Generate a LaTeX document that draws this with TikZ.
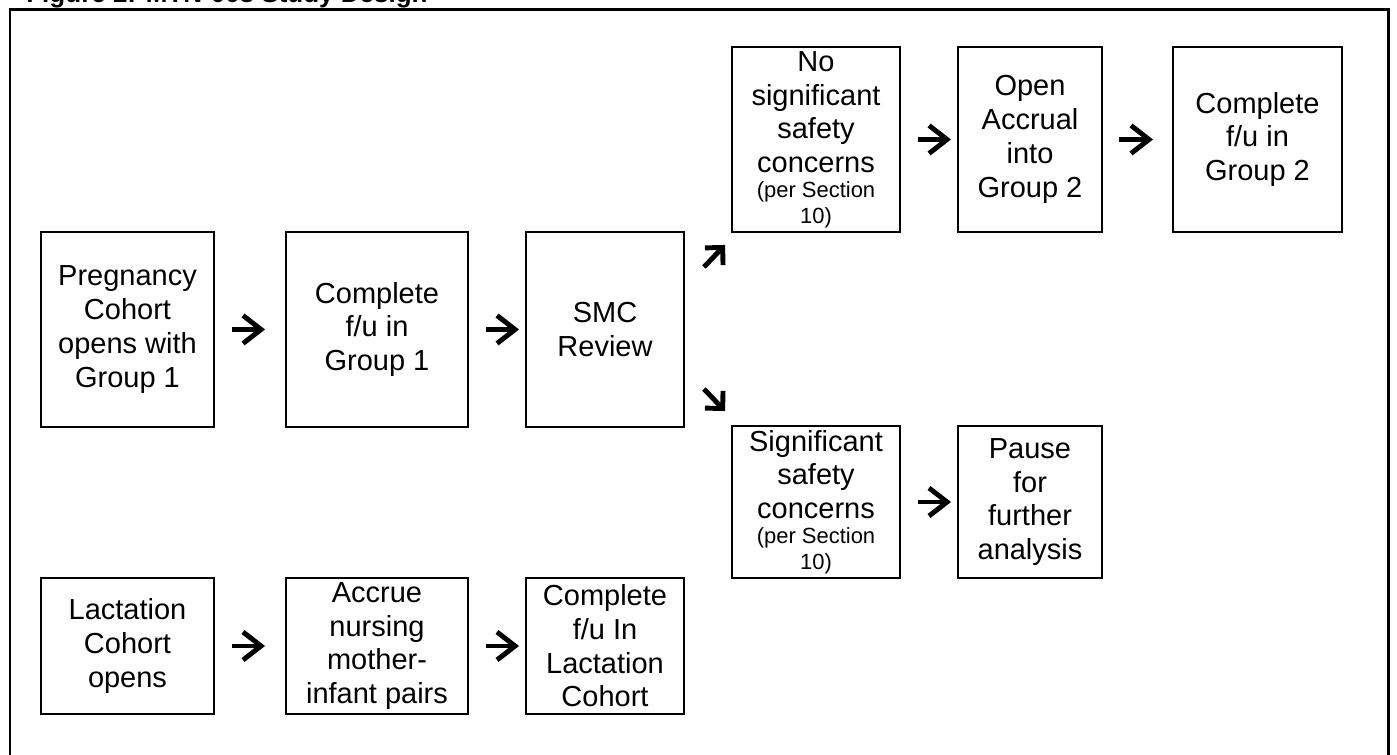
\documentclass[tikz,border=0pt]{standalone}
\usepackage{fontspec}
\setmainfont{Liberation Sans}
\usetikzlibrary{arrows.meta}
\newcommand\boxfont{\fontsize{16.5pt}{19.2pt}\selectfont}
\newcommand\notefont{\fontsize{12.5pt}{14.2pt}\selectfont}
\newcommand\titlefont{\fontsize{14.8pt}{17pt}\selectfont\bfseries}
\tikzset{
    stepbox/.style={draw,line width=1.1pt,align=center,inner sep=2pt,font=\boxfont},
    harrow/.style={line width=2.8pt,-{Straight Barb[length=0.36cm,width=0.56cm]}},
    darrow/.style={line width=2.8pt,-{Straight Barb[length=0.25cm,width=0.5cm]}}
}
\begin{document}
\begin{tikzpicture}
    \useasboundingbox (0,0) rectangle (27.94,15.1);
    \fill[white] (0,0) rectangle (27.94,15.1);
    \clip (0,0) rectangle (27.94,15.1);
    \coordinate (cPregPt) at (2.55,8.51);
    \coordinate (cCompAPt) at (7.54,8.51);
    \coordinate (cSMCPt) at (12.10,8.51);
    \coordinate (cNoSigPt) at (16.32,12.31);
    \coordinate (cOpenPt) at (20.60,12.31);
    \coordinate (cCompBPt) at (25.15,12.31);
    \coordinate (cSigPt) at (16.32,5.06);
    \coordinate (cPausePt) at (20.60,5.06);
    \coordinate (cLactPt) at (2.55,2.18);
    \coordinate (cAccrPt) at (7.54,2.18);
    \coordinate (cCompLPt) at (12.10,2.18);
    \draw[line width=1.7pt] (0.2,-1.) -- (0.2,14.9) -- (27.76,14.9) -- (27.76,-1.);
    \node[anchor=base west,font=\titlefont,inner sep=0pt] (title) at (0.52,15.04) {Figure 2: MTN-008 Study Design};
    \node[stepbox,minimum width=3.46cm,minimum height=3.90cm] (Preg) at (cPregPt) {Pregnancy\\Cohort\\opens with\\Group 1};
    \node[stepbox,minimum width=3.64cm,minimum height=3.90cm] (CompA) at (cCompAPt) {Complete\\f/u in\\Group 1};
    \node[stepbox,minimum width=3.16cm,minimum height=3.90cm] (SMC) at (cSMCPt) {SMC\\Review};
    \node[stepbox,minimum width=3.36cm,minimum height=3.70cm] (NoSig) at (cNoSigPt) {No\\significant\\safety\\concerns\\[-0.17cm]{\notefont (per Section}\\[-0.17cm]{\notefont 10)}};
    \node[stepbox,minimum width=2.88cm,minimum height=3.70cm] (Open) at (cOpenPt) {Open\\Accrual\\into\\Group 2};
    \node[stepbox,minimum width=3.38cm,minimum height=3.70cm] (CompB) at (cCompBPt) {Complete\\f/u in\\Group 2};
    \node[stepbox,minimum width=3.36cm,minimum height=3.04cm] (Sig) at (cSigPt) {Significant\\safety\\concerns\\[-0.17cm]{\notefont (per Section}\\[-0.17cm]{\notefont 10)}};
    \node[stepbox,minimum width=2.88cm,minimum height=3.04cm] (Pause) at (cPausePt) {Pause\\for\\further\\analysis};
    \node[stepbox,minimum width=3.46cm,minimum height=2.72cm] (Lact) at (cLactPt) {Lactation\\Cohort\\opens};
    \node[stepbox,minimum width=3.64cm,minimum height=2.72cm] (Accr) at (cAccrPt) {Accrue\\nursing\\mother-\\infant pairs};
    \node[stepbox,minimum width=3.16cm,minimum height=2.72cm] (CompL) at (cCompLPt) {Complete\\f/u In\\Lactation\\Cohort};
    \draw[harrow,shorten <=0.34cm,shorten >=0.40cm] (Preg.east) -- (CompA.west);
    \draw[harrow,shorten <=0.34cm,shorten >=0.12cm] (CompA.east) -- (SMC.west);
    \draw[harrow,shorten <=0.34cm,shorten >=0.12cm] (NoSig.east) -- (Open.west);
    \draw[harrow,shorten <=0.32cm,shorten >=0.38cm] (Open.east) -- (CompB.west);
    \draw[harrow,shorten <=0.34cm,shorten >=0.12cm] (Sig.east) -- (Pause.west);
    \draw[harrow,shorten <=0.34cm,shorten >=0.40cm] (Lact.east) -- (Accr.west);
    \draw[harrow,shorten <=0.34cm,shorten >=0.12cm] (Accr.east) -- (CompL.west);
    \draw[darrow] ([shift={(0.38,-0.72)}]SMC.north east) -- ([shift={(-0.12,-0.24)}]NoSig.south west);
    \draw[darrow] ([shift={(0.38,0.78)}]SMC.south east) -- ([shift={(-0.12,0.28)}]Sig.north west);
\end{tikzpicture}
\end{document}
